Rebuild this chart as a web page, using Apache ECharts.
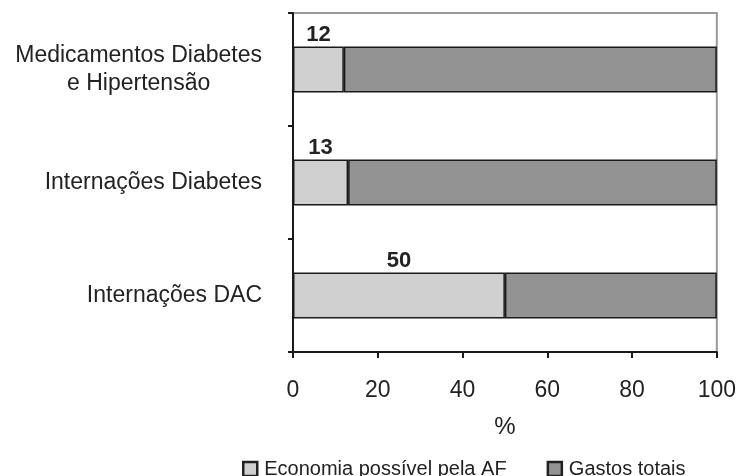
<!DOCTYPE html>
<html>
<head>
<meta charset="utf-8">
<script src="https://cdn.jsdelivr.net/npm/echarts@6/dist/echarts.min.js"></script>
<style>
  html, body { margin: 0; padding: 0; background: #fff; }
  #chart { width: 739px; height: 476px; }
</style>
</head>
<body>
<div id="chart"></div>
<script>
// Categories (top to bottom) and values in percent
const categories = ['Medicamentos Diabetes\ne Hipertensão', 'Internações Diabetes', 'Internações DAC'];
const economia = [12, 13, 50];
const gastosTotais = [88, 87, 50];
const xTicks = [0, 20, 40, 60, 80, 100];

const FONT = '"Liberation Sans", Arial, sans-serif';
const LABEL_SIZE = 23;

// Width of the widest line of a multi-line category label, so its lines
// can be centred against each other while the block stays right-aligned.
function textWidth(str, size) {
  const ctx = document.createElement('canvas').getContext('2d');
  ctx.font = size + 'px ' + FONT;
  return Math.max.apply(null, str.split('\n').map(s => ctx.measureText(s).width));
}

const chart = echarts.init(document.getElementById('chart'), null, { renderer: 'canvas' });

chart.setOption({
  animation: false,
  backgroundColor: '#fff',
  textStyle: { fontFamily: FONT },
  grid: {
    left: 293, right: 17, top: 13, bottom: 124,
    show: true, borderColor: '#9a9a9a', borderWidth: 2, backgroundColor: 'transparent'
  },
  legend: {
    top: 459,
    left: 242,
    padding: 0,
    itemGap: 40,
    itemWidth: 14,
    itemHeight: 14,
    icon: 'rect',
    textStyle: { fontSize: 20, color: '#222', fontFamily: FONT, padding: [0, 0, 0, 2] },
    itemStyle: { borderColor: '#222', borderWidth: 2.5 },
    data: ['Economia possível pela AF', 'Gastos totais']
  },
  xAxis: {
    type: 'value',
    min: xTicks[0],
    max: xTicks[xTicks.length - 1],
    interval: 20,
    splitLine: { show: false },
    axisLine: { show: true, lineStyle: { color: '#1a1a1a', width: 2 } },
    axisTick: { show: true, length: 6, lineStyle: { color: '#1a1a1a', width: 2 } },
    axisLabel: { fontSize: 23, color: '#222', margin: 27, fontFamily: FONT },
    name: '%',
    nameLocation: 'middle',
    nameGap: 63,
    nameTextStyle: { fontSize: 24, color: '#222', fontFamily: FONT }
  },
  yAxis: {
    type: 'category',
    inverse: true,
    data: categories,
    axisLine: { show: true, lineStyle: { color: '#1a1a1a', width: 2 } },
    axisTick: { show: true, length: 5, lineStyle: { color: '#1a1a1a', width: 2 } },
    axisLabel: {
      fontSize: LABEL_SIZE, color: '#222', margin: 31, align: 'right',
      fontFamily: FONT, lineHeight: 28,
      formatter: function (v) {
        if (v.indexOf('\n') < 0) return v;
        return v.split('\n').map(s => '{c|' + s + '}').join('\n');
      },
      rich: {
        c: {
          width: textWidth(categories[0], LABEL_SIZE),
          align: 'center',
          fontSize: LABEL_SIZE, lineHeight: 28, color: '#222', fontFamily: FONT
        }
      }
    }
  },
  series: [
    {
      name: 'Economia possível pela AF',
      type: 'bar',
      stack: 'total',
      barWidth: 46,
      data: economia,
      itemStyle: { color: '#d0d0d0', borderColor: '#1a1a1a', borderWidth: 1.5 },
      label: {
        show: true, position: 'top', distance: 1,
        fontSize: 22, fontWeight: 'bold', color: '#222', fontFamily: FONT
      }
    },
    {
      name: 'Gastos totais',
      type: 'bar',
      stack: 'total',
      barWidth: 46,
      data: gastosTotais,
      itemStyle: { color: '#939393', borderColor: '#1a1a1a', borderWidth: 1.5 }
    }
  ]
});
</script>
</body>
</html>
